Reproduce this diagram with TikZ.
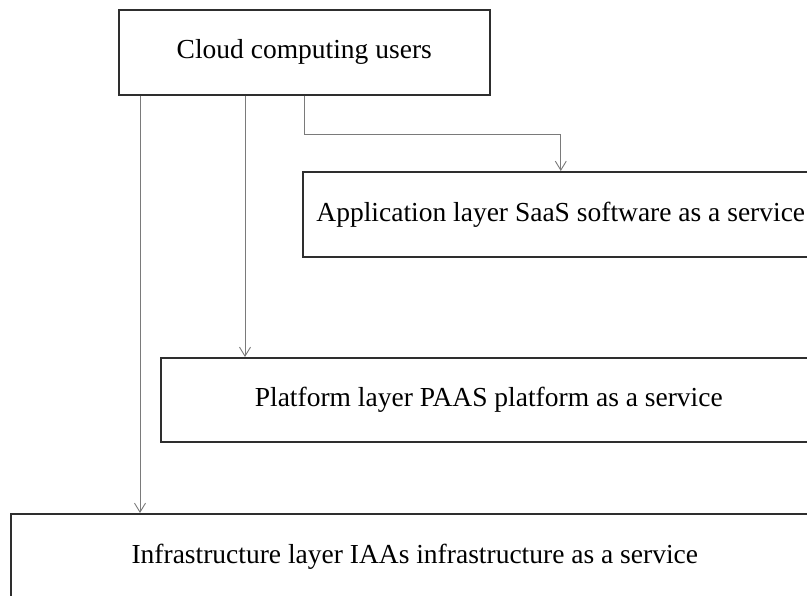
\documentclass[tikz,border=0pt]{standalone}
\usepackage{fontspec}
\setmainfont{Liberation Serif}
\usetikzlibrary{arrows.meta}
\definecolor{boxline}{HTML}{2E2E2E}
\definecolor{arrline}{HTML}{7A7A7A}
\tikzset{
  layerbox/.style={draw=boxline, line width=1.6pt, rectangle, anchor=north west, inner sep=0pt,
    font=\fontsize{27.5}{33}\selectfont, text=black},
  arr/.style={draw=arrline, line width=0.9pt, -{Straight Barb[length=9pt,width=11pt,line width=0.9pt]}}
}
\begin{document}
\begin{tikzpicture}[x=1pt,y=-1pt]
\clip (0,0) rectangle (807,596);
\fill[white] (0,0) rectangle (807,596);
\node[layerbox, minimum width=371pt, minimum height=85pt] (cloud) at (118,9) {Cloud computing users};
\node[layerbox, minimum width=516pt, minimum height=85pt] (app) at (302,171) {Application layer SaaS software as a service};
\node[layerbox, minimum width=656pt, minimum height=84pt] (plat) at (160,357) {Platform layer PAAS platform as a service};
\node[layerbox, minimum width=808pt, minimum height=86pt] (infra) at (10,513) {Infrastructure layer IAAs infrastructure as a service};
\draw[arr] ([xshift=22pt]cloud.south west) -- ([xshift=22pt]cloud.south west |- infra.north);
\draw[arr] ([xshift=127pt]cloud.south west) -- ([xshift=127pt]cloud.south west |- plat.north);
\draw[arr] (cloud.south) -- ++(0,39) -| (app.north);
\end{tikzpicture}
\end{document}
